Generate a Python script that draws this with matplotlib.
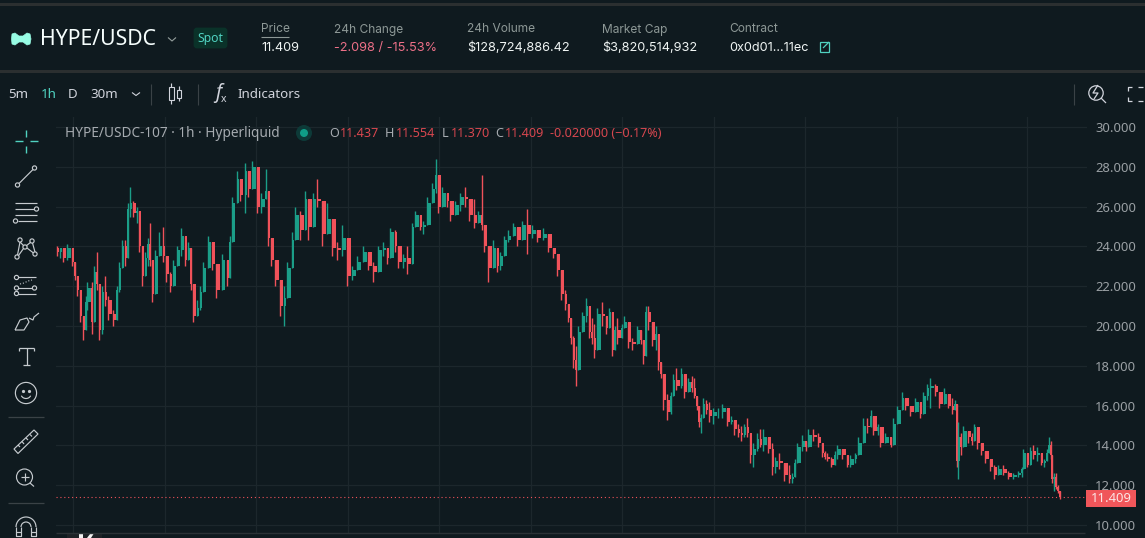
import matplotlib
matplotlib.use("Agg")
import matplotlib.pyplot as plt
from matplotlib.patches import Circle, FancyBboxPatch, Rectangle, Polygon, Arc

# ---- chart data ----
times = [57,60,63,67,72,75,77,80,83,86,
 87,92,94,97,99,102,105,108,113,117,
 119,122,125,128,130,133,137,139,142,145,
 148,150,152,155,159,163,166,170,173,177,
 181,185,188,191,193,197,200,203,208,212,
 216,222,227,230,232,237,240,245,248,252,
 257,261,266,268,271,275,280,284,287,292,
 295,300,305,308,313,317,322,327,332,337,
 342,347,352,357,363,368,373,378,383,387,
 390,395,398,403,407,412,415,420,423,427,
 432,436,438,442,447,450,455,460,465,469,
 474,478,482,484,488,493,497,500,504,508,
 513,517,522,527,532,537,543,548,553,557,
 561,565,568,571,573,576,578,582,586,589,
 592,594,597,602,606,609,612,615,617,622,
 624,628,632,637,641,643,646,648,652,656,
 658,661,663,667,671,673,676,681,684,688,
 692,694,697,699,701,703,706,709,713,718,
 722,727,731,734,738,741,744,747,750,753,
 757,760,763,768,772,775,779,784,789,792,
 795,797,802,806,808,813,818,822,825,827,
 831,835,837,842,847,850,855,858,863,867,
 871,873,878,880,885,891,893,897,902,905,
 910,915,920,923,927,930,935,939,944,948,
 952,955,957,958,961,963,968,972,974,977,
 981,985,990,994,998,1003,1008,1013,1018,1022,
 1023,1027,1030,1033,1037,1041,1044,1047,1049,1051,
 1052,1054,1056,1058,1060]
lows = [23.5,23.4,23.2,23.3,23.0,22.3,21.5,20.2,19.3,20.2,
 20.8,19.6,21.0,21.8,19.3,19.6,21.0,20.3,20.0,20.5,
 21.7,23.0,23.0,25.0,25.5,25.5,25.2,23.7,22.0,22.5,
 23.0,23.0,21.2,22.2,23.5,23.2,22.2,21.7,22.2,23.0,
 23.5,23.0,23.3,21.8,20.2,20.5,20.8,22.0,23.3,22.8,
 21.4,22.3,22.0,23.2,25.5,26.5,26.3,25.7,26.5,27.0,
 25.7,25.7,26.5,24.0,23.0,22.0,20.5,20.0,21.8,23.2,
 24.5,24.3,25.0,24.3,25.8,26.0,24.0,24.7,23.5,23.3,
 23.5,22.0,22.3,22.8,23.2,22.8,22.2,23.3,23.5,23.1,
 24.0,23.7,22.9,22.9,22.6,24.5,25.0,24.8,24.6,25.7,
 26.2,26.7,25.7,26.0,26.0,25.3,25.7,25.8,26.0,25.3,
 24.9,25.2,24.8,23.7,22.2,23.2,22.7,22.8,23.7,24.2,
 24.5,24.0,24.5,23.6,24.4,24.2,24.3,23.7,23.4,22.5,
 21.3,20.8,20.2,19.1,17.9,17.0,18.1,20.0,20.2,19.4,
 19.1,18.4,19.8,20.0,19.6,20.0,18.5,18.9,19.1,19.5,
 19.9,18.9,18.8,19.2,19.1,18.1,19.8,19.8,19.0,18.8,
 17.8,17.4,15.8,15.3,15.6,16.7,16.8,16.9,16.4,16.7,
 16.7,16.4,15.8,14.9,14.6,15.6,15.6,15.2,15.1,15.4,
 15.4,15.0,15.1,14.5,14.4,14.2,14.4,14.4,13.1,12.9,
 13.7,13.9,13.7,13.6,12.5,12.6,12.8,12.2,12.1,12.1,
 12.4,13.4,13.7,13.7,14.1,14.2,13.9,13.4,13.3,13.2,
 12.9,13.2,13.3,13.3,12.9,12.9,13.1,13.7,14.3,14.6,
 15.0,14.5,14.5,13.9,14.1,13.9,14.7,15.4,15.9,15.8,
 15.5,15.7,15.4,15.9,16.3,15.9,16.5,15.9,16.1,15.9,
 15.6,15.8,12.9,12.3,13.5,14.3,14.1,14.0,14.4,13.8,
 13.5,13.1,12.7,12.3,12.5,12.5,12.3,12.3,12.4,12.4,
 13.0,12.9,13.4,13.3,13.2,13.0,12.9,13.3,13.6,13.3,
 12.1,11.7,11.8,11.6,11.3]
highs = [24.0,23.9,23.7,24.1,23.7,23.0,22.5,21.3,20.5,21.5,
 22.2,22.2,23.0,23.7,20.8,22.0,22.5,21.5,20.8,22.0,
 23.2,24.3,24.3,26.2,27.0,26.3,26.0,25.0,23.5,23.7,
 24.4,25.2,22.3,23.8,24.7,25.0,23.2,22.7,23.3,24.0,
 24.9,24.0,24.2,23.0,21.3,21.3,22.0,23.2,24.5,24.0,
 22.7,23.6,23.2,24.5,26.5,27.8,27.3,28.2,27.5,28.3,
 27.4,26.7,27.9,25.5,24.0,23.2,22.2,22.0,23.2,24.7,
 26.0,25.8,26.8,25.7,26.7,27.4,25.5,26.2,24.5,24.2,
 25.1,23.5,23.0,23.5,24.0,23.5,23.2,24.0,24.2,23.7,
 24.9,24.8,23.7,23.6,24.0,25.2,25.8,25.5,25.3,26.5,
 27.2,28.4,26.7,27.0,26.7,26.0,26.3,26.7,27.0,26.2,
 26.4,25.8,27.6,24.5,24.0,24.3,23.5,23.7,24.5,24.8,
 25.2,24.8,25.3,25.9,25.1,24.7,24.9,24.3,23.9,23.3,
 22.3,21.8,21.0,20.3,19.5,19.0,20.0,20.7,21.4,20.5,
 20.4,20.1,20.9,21.2,20.5,20.9,19.5,20.0,20.4,20.1,
 20.5,19.8,19.4,20.0,19.8,19.3,21.0,21.0,20.1,20.0,
 18.8,18.1,16.9,16.6,16.7,17.6,17.9,17.9,17.3,17.4,
 17.5,17.4,16.4,15.7,15.6,16.4,16.3,16.2,15.9,15.9,
 16.1,15.5,15.5,15.1,15.1,15.0,15.1,15.4,14.2,14.1,
 14.6,14.8,14.8,14.1,14.1,13.4,13.6,12.9,13.0,12.6,
 13.3,14.1,14.5,14.1,14.8,14.8,14.6,13.9,13.7,13.6,
 13.4,13.7,14.0,13.8,13.4,13.5,13.6,14.4,15.4,15.4,
 15.8,15.2,15.1,14.4,14.6,14.4,15.4,16.0,16.7,16.2,
 15.9,16.4,15.9,16.7,17.1,17.4,17.1,16.6,16.9,16.2,
 16.4,16.3,15.8,15.2,14.6,15.0,14.7,14.6,15.1,14.4,
 14.0,13.7,13.1,13.0,13.0,13.0,12.7,12.6,12.7,12.9,
 13.8,13.2,13.9,14.0,13.9,13.4,13.3,13.8,14.4,14.2,
 13.3,12.6,12.6,12.0,11.6]
closes = [23.7,23.9,23.4,23.9,23.2,22.5,21.8,20.5,19.8,21.2,
 21.9,20.2,22.7,22.1,19.8,21.7,21.3,20.6,20.3,21.8,
 22.9,24.0,23.4,25.9,26.2,25.7,25.8,24.0,22.5,23.4,
 24.1,23.3,21.6,23.5,24.0,23.5,22.6,22.0,23.0,23.8,
 24.5,23.3,23.9,22.1,20.5,20.9,21.7,22.9,24.2,23.1,
 21.8,23.3,22.4,24.2,26.2,27.4,26.6,27.8,26.9,28.0,
 26.0,26.4,26.8,24.4,23.3,22.3,21.0,21.4,22.9,24.3,
 25.6,24.8,26.4,25.0,26.4,26.3,24.6,25.4,23.9,23.8,
 24.4,22.5,22.8,23.2,23.7,23.0,22.7,23.8,23.9,23.4,
 24.7,24.0,23.2,23.4,23.1,25.0,25.6,25.0,25.1,26.2,
 26.9,27.6,26.0,26.7,26.3,25.6,26.1,26.5,26.4,25.6,
 25.2,25.6,25.1,24.0,22.9,23.9,23.0,23.5,24.3,24.5,
 25.0,24.3,25.1,24.6,24.8,24.4,24.6,23.9,23.6,22.8,
 21.6,21.1,20.4,19.4,18.3,17.8,19.7,20.5,21.0,19.7,
 19.4,18.8,20.6,20.5,19.9,20.7,18.8,19.8,19.4,19.9,
 20.2,19.2,19.1,19.8,19.3,18.5,20.7,20.2,19.3,19.6,
 18.2,17.6,16.3,15.7,16.5,17.3,17.0,17.6,16.7,17.2,
 16.9,16.5,16.0,15.2,15.4,16.1,15.8,15.5,15.7,15.7,
 15.9,15.2,15.3,14.8,14.6,14.5,14.9,14.6,13.5,13.8,
 14.3,14.0,14.4,13.8,12.9,13.2,13.1,12.5,12.3,12.4,
 13.1,13.9,14.2,13.9,14.5,14.4,14.1,13.6,13.4,13.3,
 13.0,13.5,13.8,13.5,13.0,13.3,13.5,14.1,15.0,14.9,
 15.5,14.7,14.9,14.1,14.4,14.0,15.1,15.8,16.4,16.0,
 15.7,16.2,15.6,16.5,16.9,17.0,16.7,16.1,16.6,16.0,
 15.8,16.1,13.2,14.4,13.9,14.7,14.4,14.2,14.9,14.1,
 13.7,13.3,12.9,12.5,12.8,12.6,12.4,12.5,12.6,12.8,
 13.6,13.0,13.7,13.5,13.6,13.1,13.2,13.6,14.0,13.5,
 12.3,12.4,11.9,11.7,11.409]
first_open = 23.9
last_price = 11.409
price_ticks = [10,12,14,16,18,20,22,24,26,28,30]
time_grid = [73,165,256,348,439,531,622,714,805,897,1027]

BG = "#0f1a1f"
SEP = "#2b2f30"
UP = "#1b9e88"
DOWN = "#f0525a"
GRID = "#1c272c"
ICON = "#c6cbcf"
TEAL = "#50d2c1"
FONT = ["Noto Sans", "DejaVu Sans"]
HEAD = ["Inter", "DejaVu Sans"]
W, H = 1145, 538

plt.rcParams["font.family"] = FONT
fig = plt.figure(figsize=(W/100, H/100), dpi=100, facecolor=BG)

# ---- price chart ----
L, R, T, B = 56, 1087, 117, 533
ax = fig.add_axes([L/W, 1-B/H, (R-L)/W, (B-T)/H], facecolor=BG, zorder=1)
ax.set_xlim(L, R)
ax.set_ylim(10-8/19.9, 30+10/19.9)
ax.set_xticks(time_grid)
ax.set_yticks(price_ticks)
ax.set_yticklabels([f"{p:.3f}" for p in price_ticks])
ax.set_xticklabels([])
ax.grid(True, color=GRID, lw=0.9)
ax.set_axisbelow(True)
ax.yaxis.tick_right()
ax.tick_params(axis="both", length=0)
ax.tick_params(axis="y", labelcolor="#9aa0a4", labelsize=9.4, pad=6)
for s in ax.spines.values():
    s.set_visible(False)

opens = [first_open] + closes[:-1]
gaps = [b - a for a, b in zip(times, times[1:])] + [2]
for t, o, h, l, c, g in zip(times, opens, highs, lows, closes, gaps):
    col = UP if c >= o else DOWN
    ax.vlines(t, min(l, o, c), max(h, o, c), color=col, lw=1.0, zorder=3)
    ax.bar(t + g/2 - 0.8, abs(c - o), bottom=min(o, c), width=max(g * 0.72, 2), color=col, lw=0, zorder=3)
ax.axhline(last_price, color=DOWN, lw=0.8, ls=(0, (1, 2.5)), zorder=2)

# ---- page furniture, in figure pixels ----
d = fig.add_axes([0, 0, 1, 1], zorder=2)
d.set_xlim(0, W); d.set_ylim(H, 0); d.axis("off")

def line(xs, ys, c=ICON, lw=0.85):
    d.plot(xs, ys, color=c, lw=lw, solid_capstyle="butt")
def circ(x, y, r, c=ICON, lw=0.85, fc="none"):
    d.add_patch(Circle((x, y), r, fc=fc, ec=c, lw=lw))
def txt(x, y, s, c, size, **kw):
    kw.setdefault("ha", "left"); kw.setdefault("va", "center")
    d.text(x, y, s, color=c, fontsize=size, **kw)

# separators
d.add_patch(Rectangle((0, 3), W, 3, fc=SEP, ec="none"))
d.add_patch(Rectangle((0, 69.5), W, 3, fc=SEP, ec="none"))
line([L, W-60], [533, 533], "#2b3236", 1.0)

# header
d.add_patch(Polygon([(12,34),(15,33),(19,36),(23,36),(27,33),(30,34),(31,39),(30,44),(27,45),(23,42),(19,42),(15,45),(12,44),(11.5,39)],
                    closed=True, fc="#97fce4", ec="#97fce4", lw=0.5))
txt(40, 39.5, "HYPE/USDC", "#f6fefd", 15.3)
line([168,172,176],[37.5,41,37.5], "#949e9c", 0.8)
d.add_patch(FancyBboxPatch((195, 29), 31, 18, boxstyle="round,pad=0,rounding_size=2", fc="#0a3229", ec="#0a3229", lw=2))
txt(210.5, 38.5, "Spot", TEAL, 8.8, ha="center")
GREY = "#8d9896"; WH = "#f0f5f4"
def head(x, y, s, c, size):
    d.text(x, y, s, color=c, fontsize=size, family=HEAD, ha="left", va="center")
LAB, VAL = 8.6, 9.15
head(260.5, 29.5, "Price", GREY, LAB)
line([260.5, 288.5], [37, 37], GREY, 0.8)
head(261, 48, "11.409", WH, VAL)
head(334, 29.5, "24h Change", GREY, LAB)
head(334, 48, "-2.098 / -15.53%", "#ed7088", VAL)
head(467, 29.5, "24h Volume", GREY, LAB)
head(467, 48, "$128,724,886.42", WH, VAL)
head(602, 29.5, "Market Cap", GREY, LAB)
head(602, 48, "$3,820,514,932", WH, VAL)
head(729, 29.5, "Contract", GREY, LAB)
head(729, 48, "0x0d01...11ec", WH, VAL)
d.add_patch(Rectangle((819.5, 42), 9.5, 9.5, fc="none", ec=TEAL, lw=0.9))
line([823, 829], [48, 42], TEAL, 0.9)

# toolbar
TB = "#d1d4dc"
txt(8, 94.5, "5m", TB, 9.6)
txt(41, 94.5, "1h", TEAL, 9.6)
txt(68, 94.5, "D", TB, 9.6)
txt(90, 94.5, "30m", TB, 9.6)
line([132,136,140],[92.5,95.5,92.5], TB, 0.8)
line([150.5,150.5],[84,105], "#3a4246", 0.8)
d.add_patch(Rectangle((168.5, 87), 5, 13, fc="none", ec=TB, lw=0.8))
line([171,171],[83,87], TB); line([171,171],[100,104], TB)
d.add_patch(Rectangle((176.5, 90), 4, 7.5, fc="none", ec=TB, lw=0.8))
line([178.5,178.5],[86,90], TB); line([178.5,178.5],[97.5,101], TB)
line([197.5,197.5],[84,105], "#3a4246", 0.8)
txt(215, 93, "f", TB, 14, style="italic")
txt(221, 100, "x", TB, 7.5)
txt(237, 94.5, "Indicators", TB, 9.6)
line([1073.7,1073.7],[84,105], "#3a4246", 0.8)
circ(1096, 93, 7.2, TB, 0.9)
line([1101,1106],[98,103], TB, 0.9)
line([1098,1093,1098,1094],[85,93,93,99], TB, 0.9)
line([1127.5,1127.5,1132],[91,86.5,86.5], TB, 0.9)
line([1138,1143],[86.5,86.5], TB, 0.9)
line([1127.5,1127.5,1132],[96.5,101,101], TB, 0.9)
line([1138,1143],[101,101], TB, 0.9)

# legend row
LG = "#a6abb0"; LR = "#d8474f"
txt(65, 133.5, "HYPE/USDC-107 · 1h · Hyperliquid", LG, 9.8)
circ(304, 133, 8, "none", 0, "#0d3a38")
circ(304, 133, 4, "none", 0, "#0f9d87")
for x, s, c in [(329,"O",LG),(340,"11.437",LR),(385,"H",LG),(396,"11.554",LR),(442,"L",LG),(451,"11.370",LR),
                (495,"C",LG),(505,"11.409",LR),(550,"-0.020000 (−0.17%)",LR)]:
    txt(x, 133.5, s, c, 9.1)

# price tag
d.add_patch(Rectangle((1086, 489.5), 50, 17, fc="#f0565a", ec="none"))
txt(1111, 498, "11.409", "#fbe4e4", 9.4, ha="center")

# drawing tools, left rail
line([26.3,26.3],[130,137],TEAL,1); line([26.3,26.3],[146,153],TEAL,1)
line([15,23],[141.3,141.3],TEAL,1); line([30,38],[141.3,141.3],TEAL,1)
circ(17.5,185,2.1); circ(34.5,168,2.1); line([19,33],[183.5,169.5])
line([15,37],[203,203]); line([15,34],[209,209]); line([15,37],[215,215]); line([18,37],[221,221])
circ(36.5,209,2.1); circ(15.5,221,2.1)
pts = [(20,240),(32,241),(25,247),(17,257),(35,254)]
for p in pts: circ(p[0],p[1],2.1)
line([20,17.5],[242,255]); line([20,24],[242,246]); line([26,31],[246,242]); line([32.5,35],[243,252])
line([23.5,18.5],[248.5,255.5]); line([27,33.5],[248,253])
line([18,36],[277,277]); line([18,32],[288,288]); line([18,36],[293.5,293.5])
circ(16.5,277.5,2.1); circ(16.5,288,2.1); circ(34.5,288,2.1); circ(16.5,293.5,2.1)
d.plot([20,24,28,32],[284,283,281,280],ls=":",color=ICON,lw=0.8)
line([15,24,29,27,20,15],[330,330,322,318,320,330])
line([29,33,34,39],[318,320,317,313])
line([19,34],[348,348],ICON,0.9); line([26.5,26.5],[348,365],ICON,0.9); line([23,30],[365,365],ICON,0.9)
line([19,19],[348,351],ICON,0.9); line([34,34],[348,351],ICON,0.9)
circ(26,393,10.6)
d.plot([23,29],[391,391],ls="none",marker="o",ms=1.3,color=ICON)
d.add_patch(Arc((26,394),10,9,theta1=20,theta2=160,ec=ICON,lw=0.85))
line([8,44],[417.3,417.3],"#3a4246",0.9)
d.add_patch(Polygon([(14,449),(34,430),(38,434),(18,453.5)],closed=True,fc="none",ec=ICON,lw=0.85))
for a,b,c_,e in [(18,445,20,447),(22,441.5,24,444),(26,438,28,440),(30,434.5,32,436.5)]:
    line([a,c_],[b,e])
circ(24.5,477,8)
line([30,34],[483,486.5]); line([24.5,24.5],[473,481]); line([20.5,28.5],[477,477])
line([8,44],[502.5,502.5],"#3a4246",0.9)
d.add_patch(Arc((26,527),20,20,theta1=180,theta2=360,ec=ICON,lw=0.85))
d.add_patch(Arc((26,527),10,10,theta1=180,theta2=360,ec=ICON,lw=0.85))
line([16,16,21,21],[527,535.5,535.5,527]); line([31,31,36,36],[527,535.5,535.5,527]); line([16,21],[531.5,531.5]); line([31,36],[531.5,531.5])

# watermark remains at the lower edge
d.add_patch(Rectangle((67, 533.5), 35, 5, fc="#1d2226", ec="none"))
d.add_patch(Rectangle((79, 534), 4, 4, fc="#f2f2f2", ec="none"))
d.add_patch(Polygon([(87,538),(90,534),(93.5,534),(91,538)],closed=True,fc="#f2f2f2",ec="none"))

fig.savefig("out.png", dpi=100, facecolor=BG)
